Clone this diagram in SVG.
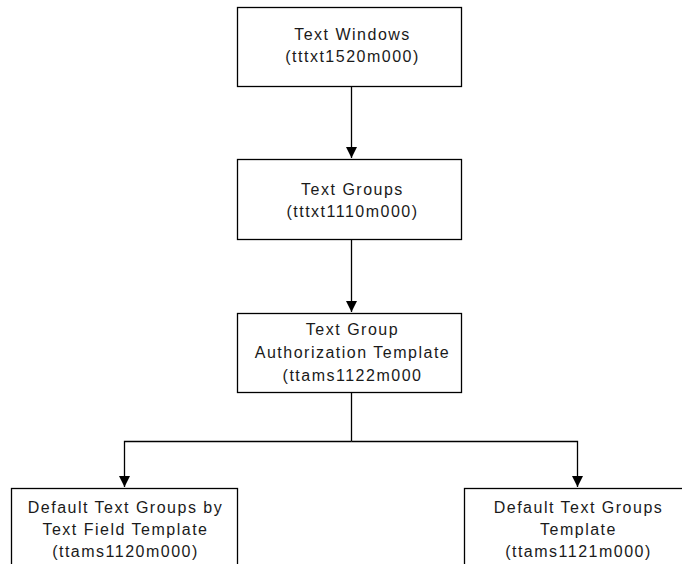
<svg xmlns="http://www.w3.org/2000/svg" width="682" height="564" viewBox="0 0 682 564">
<style>
.box{fill:#fff;stroke:#000;stroke-width:1.3}
.t{font-family:"Liberation Sans",Arial,sans-serif;font-size:16px;letter-spacing:1.5px;fill:#1a1a1a;text-anchor:middle}
.c{fill:none;stroke:#000;stroke-width:1.3}
</style>
<defs>
<marker id="ah" markerWidth="11" markerHeight="11" refX="11" refY="5.5" orient="auto" markerUnits="userSpaceOnUse">
<path d="M0,0 L11,5.5 L0,11 Z" fill="#000"/>
</marker>
</defs>
<rect width="682" height="564" fill="#fff"/>
<g id="connectors">
<path class="c" d="M351.5,86 V158" marker-end="url(#ah)"/>
<path class="c" d="M351.5,239 V312" marker-end="url(#ah)"/>
<path class="c" d="M351.5,392 V441.5"/>
<path class="c" d="M351.5,441.5 H124.5 V487" marker-end="url(#ah)"/>
<path class="c" d="M351.5,441.5 H577.5 V487" marker-end="url(#ah)"/>
</g>
<g id="n1">
<rect class="box" x="237.5" y="7.5" width="224" height="79"/>
<text class="t" x="352.5" y="40">Text Windows</text>
<text class="t" x="352.5" y="62">(tttxt1520m000)</text>
</g>
<g id="n2">
<rect class="box" x="237.5" y="159.5" width="224" height="80"/>
<text class="t" x="352.5" y="195">Text Groups</text>
<text class="t" x="352.5" y="217">(tttxt1110m000)</text>
</g>
<g id="n3">
<rect class="box" x="237.5" y="313.5" width="224" height="79"/>
<text class="t" x="352.5" y="335">Text Group</text>
<text class="t" x="352.5" y="358">Authorization Template</text>
<text class="t" x="352.5" y="381">(ttams1122m000</text>
</g>
<g id="n4">
<rect class="box" x="11.5" y="488.5" width="226" height="90"/>
<text class="t" x="125.5" y="513">Default Text Groups by</text>
<text class="t" x="125.5" y="535">Text Field Template</text>
<text class="t" x="125.5" y="557">(ttams1120m000)</text>
</g>
<g id="n5">
<rect class="box" x="464.5" y="488.5" width="226" height="90"/>
<text class="t" x="578.5" y="513">Default Text Groups</text>
<text class="t" x="578.5" y="535">Template</text>
<text class="t" x="578.5" y="557">(ttams1121m000)</text>
</g>
</svg>
